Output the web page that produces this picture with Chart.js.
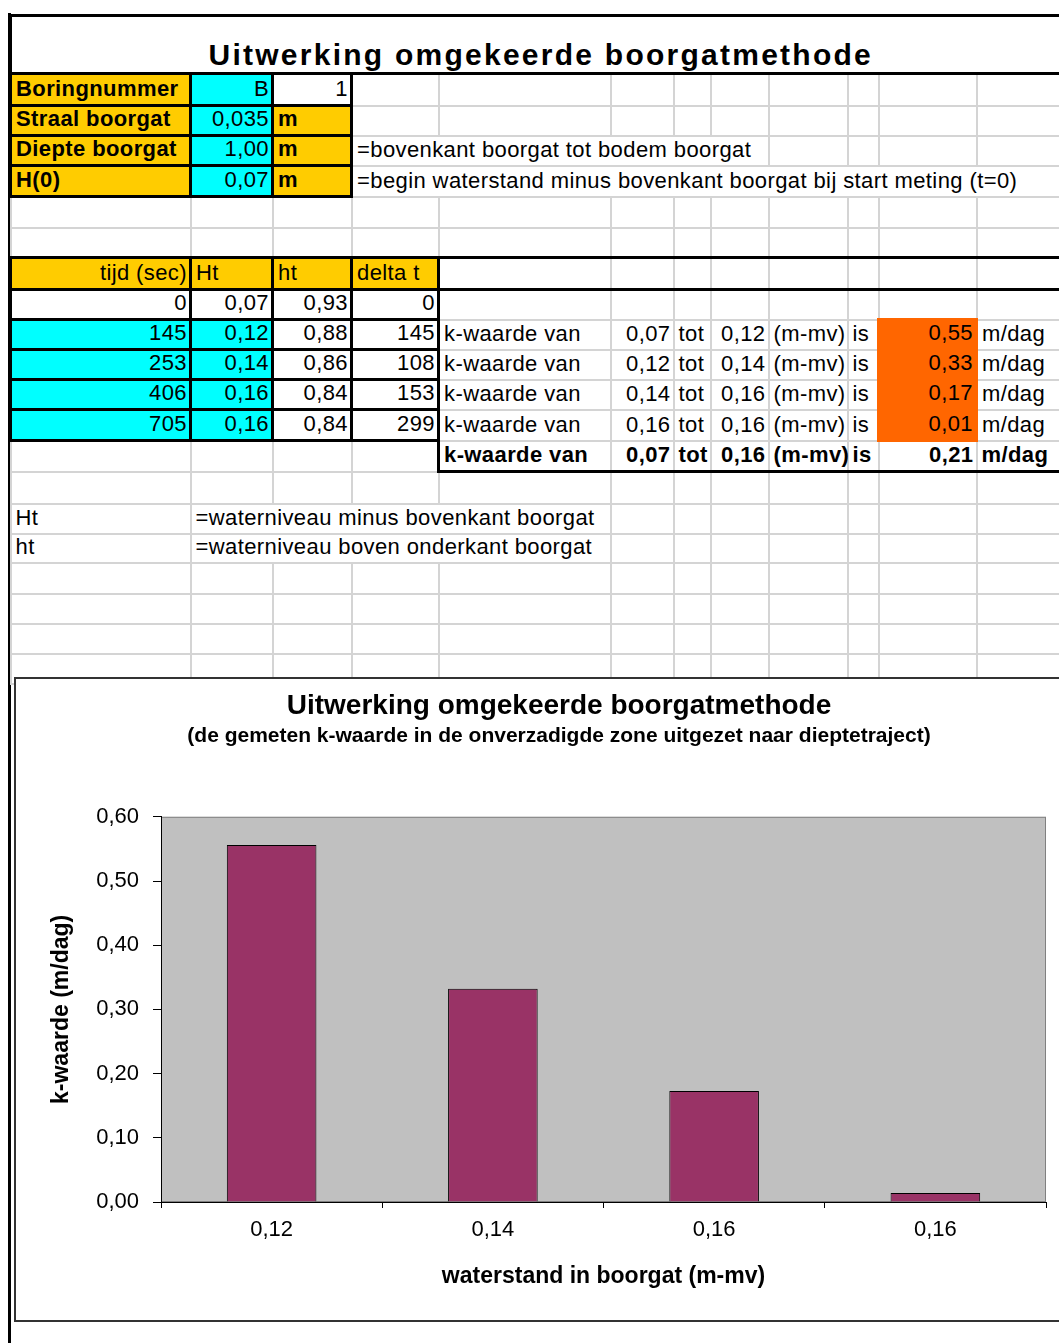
<!DOCTYPE html>
<html lang="nl">
<head>
<meta charset="utf-8">
<title>Uitwerking omgekeerde boorgatmethode</title>
<script src="https://cdn.jsdelivr.net/npm/chart.js@4.4.1/dist/chart.umd.min.js"></script>
<style>
  html, body { margin: 0; padding: 0; background: #fff; width: 1059px; height: 1343px; overflow: hidden; }
  #leftBorder { position: absolute; left: 8px; top: 13px; width: 3px; height: 1330px; background: #000; }
  #sheet {
    position: absolute; left: 9px; top: 14px; width: 1058px;
    border-collapse: collapse; table-layout: fixed;
    font-family: "Liberation Sans", Arial, sans-serif; font-size: 22px; color: #000;
    letter-spacing: 0.4px;
  }
  #sheet td {
    border: 2px solid #d4d4d4; padding: 0 3px 3px 4px; overflow: visible;
    white-space: nowrap; vertical-align: bottom; line-height: 24px;
  }
  #sheet td.title {
    border-top: 3px solid #000; border-left: 3px solid #000; border-bottom: 3px solid #000;
    border-right: none; text-align: center; font-size: 30px; font-weight: bold;
    letter-spacing: 2.25px; line-height: 34px; padding-bottom: 0;
  }
  #sheet td.o { background: #ffcc00; }
  #sheet td.c { background: #00ffff; }
  #sheet td.b { font-weight: bold; }
  #sheet td.R { text-align: right; padding-right: 2px; }
  #sheet td.k { border: 3px solid #000; }
  #sheet td.kt { border-top: 3px solid #000; }
  #sheet td.kb { border-bottom: 3px solid #000; }
  #sheet td.kl { border-left: 3px solid #000; }
  #sheet td.ko { background: #ff6600; border: 3px solid #ff6600; }
  #chartBox {
    position: absolute; left: 14px; top: 677px; width: 1086px; height: 641px;
    border: 2px solid #333; background: #fff;
  }
</style>
</head>
<body>
<div id="leftBorder"></div>
<table id="sheet">
  <colgroup>
    <col style="width:180px"><col style="width:82px"><col style="width:79px"><col style="width:87px">
    <col style="width:172px"><col style="width:63px"><col style="width:37px"><col style="width:58px">
    <col style="width:79px"><col style="width:31px"><col style="width:98px"><col style="width:92px">
  </colgroup>
  <tr style="height:58px"><td colspan="12" class="title">Uitwerking omgekeerde boorgatmethode</td></tr>
  <tr style="height:32px">
    <td class="o b k">Boringnummer</td><td class="c R k">B</td><td class="R k">1</td>
    <td></td><td></td><td></td><td></td><td></td><td></td><td></td><td></td><td></td>
  </tr>
  <tr style="height:30px">
    <td class="o b k">Straal boorgat</td><td class="c R k">0,035</td><td class="o b k">m</td>
    <td></td><td></td><td></td><td></td><td></td><td></td><td></td><td></td><td></td>
  </tr>
  <tr style="height:30px">
    <td class="o b k">Diepte boorgat</td><td class="c R k">1,00</td><td class="o b k">m</td>
    <td colspan="5">=bovenkant boorgat tot bodem boorgat</td><td></td><td></td><td></td><td></td>
  </tr>
  <tr style="height:31px">
    <td class="o b k">H(0)</td><td class="c R k">0,07</td><td class="o b k">m</td>
    <td colspan="9">=begin waterstand minus bovenkant boorgat bij start meting (t=0)</td>
  </tr>
  <tr style="height:31px"><td></td><td></td><td></td><td></td><td></td><td></td><td></td><td></td><td></td><td></td><td></td><td></td></tr>
  <tr style="height:30px"><td></td><td></td><td></td><td></td><td></td><td></td><td></td><td></td><td></td><td></td><td></td><td></td></tr>
  <tr style="height:32px">
    <td class="o R k">tijd (sec)</td><td class="o k">Ht</td><td class="o k">ht</td><td class="o k">delta t</td>
    <td class="kt kb"></td><td class="kt kb"></td><td class="kt kb"></td><td class="kt kb"></td>
    <td class="kt kb"></td><td class="kt kb"></td><td class="kt kb"></td><td class="kt kb"></td>
  </tr>
  <tr style="height:30px">
    <td class="R k">0</td><td class="R k">0,07</td><td class="R k">0,93</td><td class="R k">0</td>
    <td></td><td></td><td></td><td></td><td></td><td></td><td></td><td></td>
  </tr>
  <tr style="height:30px">
    <td class="c R k">145</td><td class="c R k">0,12</td><td class="R k">0,88</td><td class="R k">145</td>
    <td>k-waarde van</td><td class="R">0,07</td><td>tot</td><td class="R">0,12</td><td>(m-mv)</td><td>is</td>
    <td class="ko R">0,55</td><td>m/dag</td>
  </tr>
  <tr style="height:30px">
    <td class="c R k">253</td><td class="c R k">0,14</td><td class="R k">0,86</td><td class="R k">108</td>
    <td>k-waarde van</td><td class="R">0,12</td><td>tot</td><td class="R">0,14</td><td>(m-mv)</td><td>is</td>
    <td class="ko R">0,33</td><td>m/dag</td>
  </tr>
  <tr style="height:30px">
    <td class="c R k">406</td><td class="c R k">0,16</td><td class="R k">0,84</td><td class="R k">153</td>
    <td>k-waarde van</td><td class="R">0,14</td><td>tot</td><td class="R">0,16</td><td>(m-mv)</td><td>is</td>
    <td class="ko R">0,17</td><td>m/dag</td>
  </tr>
  <tr style="height:31px">
    <td class="c R k">705</td><td class="c R k">0,16</td><td class="R k">0,84</td><td class="R k">299</td>
    <td>k-waarde van</td><td class="R">0,16</td><td>tot</td><td class="R">0,16</td><td>(m-mv)</td><td>is</td>
    <td class="ko R">0,01</td><td>m/dag</td>
  </tr>
  <tr style="height:31px">
    <td></td><td></td><td></td><td></td>
    <td class="b kl kb">k-waarde van</td><td class="b R kb">0,07</td><td class="b kb">tot</td><td class="b R kb">0,16</td>
    <td class="b kb">(m-mv)</td><td class="b kb">is</td><td class="b R kb">0,21</td><td class="b kb">m/dag</td>
  </tr>
  <tr style="height:32px"><td></td><td></td><td></td><td></td><td></td><td></td><td></td><td></td><td></td><td></td><td></td><td></td></tr>
  <tr style="height:30px">
    <td>Ht</td><td colspan="4">=waterniveau minus bovenkant boorgat</td>
    <td></td><td></td><td></td><td></td><td></td><td></td><td></td>
  </tr>
  <tr style="height:29px">
    <td>ht</td><td colspan="4">=waterniveau boven onderkant boorgat</td>
    <td></td><td></td><td></td><td></td><td></td><td></td><td></td>
  </tr>
  <tr style="height:31px"><td></td><td></td><td></td><td></td><td></td><td></td><td></td><td></td><td></td><td></td><td></td><td></td></tr>
  <tr style="height:30px"><td></td><td></td><td></td><td></td><td></td><td></td><td></td><td></td><td></td><td></td><td></td><td></td></tr>
  <tr style="height:30px"><td></td><td></td><td></td><td></td><td></td><td></td><td></td><td></td><td></td><td></td><td></td><td></td></tr>
  <tr style="height:30px"><td></td><td></td><td></td><td></td><td></td><td></td><td></td><td></td><td></td><td></td><td></td><td></td></tr>
</table>

<div id="chartBox"><canvas id="kChart"></canvas></div>

<script>
// waterstand-trajecten (x-as) en gemeten k-waarden (m/dag)
const categories = ['0,12', '0,14', '0,16', '0,16'];
const kValues = [0.556, 0.332, 0.173, 0.014];
const yMin = 0;
const yMax = 0.6;
const yStep = 0.1;

const chartTitle = 'Uitwerking omgekeerde boorgatmethode';
const chartSubtitle = '(de gemeten k-waarde in de onverzadigde zone uitgezet naar dieptetraject)';
const yTitle = 'k-waarde (m/dag)';
const xTitle = 'waterstand in boorgat (m-mv)';

Chart.defaults.font.family = '"Liberation Sans", Arial, sans-serif';
Chart.defaults.color = '#000';

// grijze achtergrond van het plotgebied (zoals Excel)
const plotBackground = {
    id: 'plotBackground',
    beforeDraw(chart) {
        const { ctx, chartArea: a } = chart;
        ctx.save();
        ctx.fillStyle = '#c0c0c0';
        ctx.fillRect(a.left, a.top, a.right - a.left, a.bottom - a.top);
        ctx.strokeStyle = '#808080';
        ctx.lineWidth = 1;
        ctx.strokeRect(a.left + 0.5, a.top + 0.5, a.right - a.left - 1, a.bottom - a.top - 1);
        ctx.restore();
    }
};

new Chart(document.getElementById('kChart'), {
    type: 'bar',
    data: {
        labels: categories,
        datasets: [{
            data: kValues,
            backgroundColor: '#993366',
            borderColor: '#000',
            borderWidth: 1,
            barPercentage: 0.405,
            categoryPercentage: 1
        }]
    },
    options: {
        responsive: true,
        maintainAspectRatio: false,
        animation: false,
        layout: { padding: 0 },
        plugins: {
            legend: { display: false },
            tooltip: { enabled: false },
            title: {
                display: true,
                text: chartTitle,
                font: { size: 28, weight: 'bold' },
                padding: { top: 10, bottom: 0 }
            },
            subtitle: {
                display: true,
                text: chartSubtitle,
                color: '#000',
                font: { size: 21, weight: 'bold' },
                padding: { top: 1, bottom: 68 }
            }
        },
        scales: {
            x: {
                grid: { display: true, drawOnChartArea: false, drawTicks: true, tickLength: 6, color: '#000', offset: true },
                border: { display: true, color: '#000', width: 1 },
                ticks: { font: { size: 22 }, padding: 9, color: '#000' },
                title: {
                    display: true,
                    text: xTitle,
                    font: { size: 23, weight: 'bold' },
                    padding: { top: 0, bottom: 30 }
                },
                afterFit(scale) { scale.height = 118; }
            },
            y: {
                min: yMin,
                max: yMax,
                grid: { drawOnChartArea: false, drawTicks: true, tickLength: 8, color: '#000' },
                border: { display: true, color: '#000', width: 1 },
                ticks: {
                    stepSize: yStep,
                    font: { size: 22 },
                    padding: 14,
                    color: '#000',
                    callback: v => v.toFixed(2).replace('.', ',')
                },
                title: {
                    display: true,
                    text: yTitle,
                    font: { size: 23, weight: 'bold' },
                    padding: { top: 32, bottom: 0 }
                },
                afterFit(scale) { scale.width = 145; }
            },
            // lege ruimte rechts van het plotgebied
            yRight: {
                position: 'right',
                display: true,
                grid: { display: false },
                border: { display: false },
                ticks: { display: false },
                afterFit(scale) { scale.width = 56; }
            }
        }
    },
    plugins: [plotBackground]
});
</script>
</body>
</html>
